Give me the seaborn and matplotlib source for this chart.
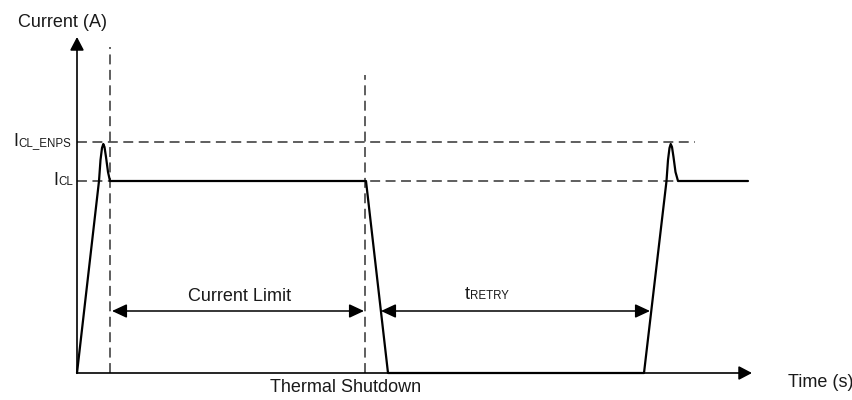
import matplotlib
matplotlib.use("Agg")
import matplotlib.pyplot as plt
from matplotlib.patches import ArrowStyle
import seaborn as sns
import pandas as pd

sns.set_theme(style="white")
plt.rcParams['font.family'] = ['Liberation Sans', 'DejaVu Sans']

# Waveform (time, current) in diagram units; origin at the axes corner
time_vals = [0, 22, 23.5, 25, 26.3, 27.5, 29, 31, 33, 289, 311, 567,
             589.5, 591, 592.5, 593.7, 595, 596.5, 598.5, 601, 671]
current_vals = [0, 192, 213, 225, 229, 226, 216, 201, 192, 192, 0, 0,
                192, 213, 225, 229, 226, 216, 201, 192, 192]

# Reference levels and markers
level_icl = 192
level_icl_enps = 231
t_enps_end = 33
t_shutdown = 288
t_off = 304
t_on = 573
x_axis_end = 675
y_axis_end = 336

fig = plt.figure(figsize=(8.53, 4.0), dpi=100)
ax = fig.add_axes([0, 0, 1, 1])
ax.set_xlim(-77, 776)
ax.set_ylim(-27, 373)
ax.axis('off')

def P(px, py):
    return (px - 77, 373 - py)

dash = (0, (6.5, 3.6))
dcol = '#333333'
# Dashed guide lines
ax.plot([0, 618], [level_icl_enps, level_icl_enps], ls=dash, lw=1.1, color=dcol)
ax.plot([0, 671], [level_icl, level_icl], ls=dash, lw=1.1, color=dcol)
ax.plot([t_enps_end, t_enps_end], [0, 326], ls=dash, lw=1.1, color=dcol)
ax.plot([t_shutdown, t_shutdown], [0, 298], ls=dash, lw=1.1, color=dcol)

# Waveform
df = pd.DataFrame({'t': time_vals, 'i': current_vals})
sns.lineplot(data=df, x='t', y='i', sort=False, estimator=None, color='black',
             lw=1.6, ax=ax, solid_joinstyle='round')
ax.set_xlabel('')
ax.set_ylabel('')

# Axes with arrows
axstyle = ArrowStyle('-|>', head_length=8.0, head_width=4.2)
ax.annotate('', xy=(0, y_axis_end), xytext=(0, 0),
            arrowprops=dict(arrowstyle=axstyle, mutation_scale=1, lw=1.2,
                            color='black', shrinkA=0, shrinkB=0))
ax.annotate('', xy=(x_axis_end, 0), xytext=(0, 0),
            arrowprops=dict(arrowstyle=axstyle, mutation_scale=1, lw=1.2,
                            color='black', shrinkA=0, shrinkB=0))

# Dimension arrows
dimstyle = ArrowStyle('<|-|>', head_length=9.0, head_width=4.2)
ya = 62
ax.annotate('', xy=(t_shutdown - 1, ya), xytext=(t_enps_end + 2, ya),
            arrowprops=dict(arrowstyle=dimstyle, mutation_scale=1, lw=1.1,
                            color='black', shrinkA=0, shrinkB=0))
ax.annotate('', xy=(t_on, ya), xytext=(t_off, ya),
            arrowprops=dict(arrowstyle=dimstyle, mutation_scale=1, lw=1.1,
                            color='black', shrinkA=0, shrinkB=0))

big = 13
small = 8.3
col = '#1a1a1a'
ax.text(*P(240, 301), 'Current Limit', fontsize=big, ha='center', va='baseline', color=col)
ax.text(*P(465, 299), 't', fontsize=big, ha='left', va='baseline', color=col)
ax.text(*P(470.5, 299), 'RETRY', fontsize=small, ha='left', va='baseline', color=col)
ax.text(*P(346, 392), 'Thermal Shutdown', fontsize=big, ha='center', va='baseline', color=col)
ax.text(*P(788, 387), 'Time (s)', fontsize=big, ha='left', va='baseline', color=col)
ax.text(*P(18, 27), 'Current (A)', fontsize=big, ha='left', va='baseline', color=col)
ax.text(*P(13, 146), 'I', fontsize=big, ha='left', va='baseline', color=col)
ax.text(*P(18.8, 146), 'CL_ENPS', fontsize=small, ha='left', va='baseline', color=col)
ax.text(*P(53, 185), 'I', fontsize=big, ha='left', va='baseline', color=col)
ax.text(*P(58.8, 185), 'CL', fontsize=small, ha='left', va='baseline', color=col)

fig.savefig('out.png', dpi=100)
